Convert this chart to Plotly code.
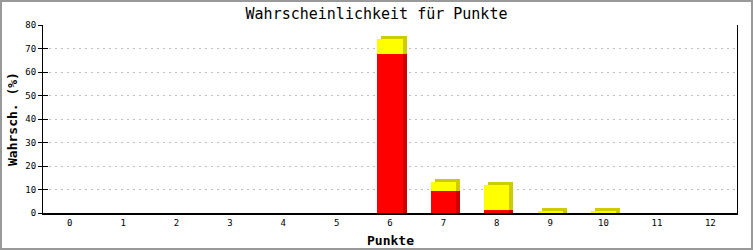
import plotly.graph_objects as go

categories = [str(i) for i in range(13)]
red_vals = [0, 0, 0, 0, 0, 0, 67.6, 9.3, 1.2, 0, 0, 0, 0]
yellow_vals = [0, 0, 0, 0, 0, 0, 6.3, 3.9, 10.6, 0.9, 0.6, 0, 0]
title_text = "Wahrscheinlichkeit für Punkte"
x_title = "Punkte"
y_title = "Wahrsch. (%)"

W, H = 753, 250
ML, MR, MT, MB = 43, 16, 25, 37
BW = 0.47          # bar width (category units)
DX = 0.075         # 3D depth, horizontal (category units)
DY = 1.4           # 3D depth, vertical (value units)

x = list(range(len(categories)))
yel_base = red_vals

fig = go.Figure()
# 3D shadows (side + top)
fig.add_trace(go.Bar(x=x, y=[v + DY if v > 0 else 0 for v in red_vals], base=0,
                     width=BW, offset=-BW / 2 + DX, marker=dict(color="#cc0000", line_width=0),
                     hoverinfo="skip", showlegend=False))
fig.add_trace(go.Bar(x=x, y=[v + DY if v > 0 else 0 for v in yellow_vals], base=yel_base,
                     width=BW, offset=-BW / 2 + DX, marker=dict(color="#cccc00", line_width=0),
                     hoverinfo="skip", showlegend=False))
# front faces
fig.add_trace(go.Bar(x=x, y=red_vals, base=0, width=BW, offset=-BW / 2,
                     marker=dict(color="#ff0000", line_width=0), showlegend=False))
fig.add_trace(go.Bar(x=x, y=yellow_vals, base=yel_base, width=BW, offset=-BW / 2,
                     marker=dict(color="#ffff00", line_width=0), showlegend=False))

mono = "DejaVu Sans Mono"
pw = W - ML - MR
ph = H - MT - MB
fig.update_layout(
    width=W, height=H, margin=dict(l=ML, r=MR, t=MT, b=MB, autoexpand=False),
    barmode="overlay", bargap=0,
    paper_bgcolor="white", plot_bgcolor="white",
    title=dict(text=title_text, x=0.5, xanchor="center", y=1 - 14 / H, yanchor="middle",
               font=dict(family=mono, size=15, color="black")),
    xaxis=dict(range=[-0.5, 12.5], tickmode="array", tickvals=x, ticktext=categories,
               automargin=False,
               showgrid=False, zeroline=False, showline=True, linecolor="black", linewidth=2,
               ticks="", tickfont=dict(family=mono, size=9, color="black")),
    yaxis=dict(range=[0, 80], dtick=10, showgrid=True, gridcolor="#c0c0c0", griddash="2px,4px",
               gridwidth=1, zeroline=False, showline=True, linecolor="black", linewidth=1,
               automargin=False,
               mirror=True, ticks="outside", ticklen=4, tickcolor="black",
               tickfont=dict(family=mono, size=9, color="black")),
    yaxis2=dict(range=[0, 80], dtick=10, overlaying="y", side="left", showgrid=False,
                zeroline=False, ticks="inside", ticklen=5, tickcolor="black",
                showticklabels=False, showline=False),
    annotations=[
        dict(text=f"<b>{x_title}</b>", xref="paper", yref="paper", x=0.5, y=-(240 - 213) / ph,
             xanchor="center", yanchor="middle", showarrow=False,
             font=dict(family=mono, size=13, color="black")),
        dict(text=f"<b>{y_title}</b>", xref="paper", yref="paper", x=-(ML - 12) / pw, y=0.5,
             xanchor="center", yanchor="middle", textangle=-90, showarrow=False,
             font=dict(family=mono, size=13, color="black")),
    ],
    shapes=[dict(type="rect", xref="paper", yref="paper",
                 x0=-(ML - 1) / pw, x1=1 + (MR - 1) / pw,
                 y0=-(MB - 1) / ph, y1=1 + (MT - 1) / ph,
                 line=dict(color="#999999", width=2), fillcolor="rgba(0,0,0,0)", layer="below")],
)
fig.add_trace(go.Scatter(x=[0], y=[0], yaxis="y2", mode="markers", marker=dict(opacity=0),
                         hoverinfo="skip", showlegend=False))

fig.write_html("out.html")
